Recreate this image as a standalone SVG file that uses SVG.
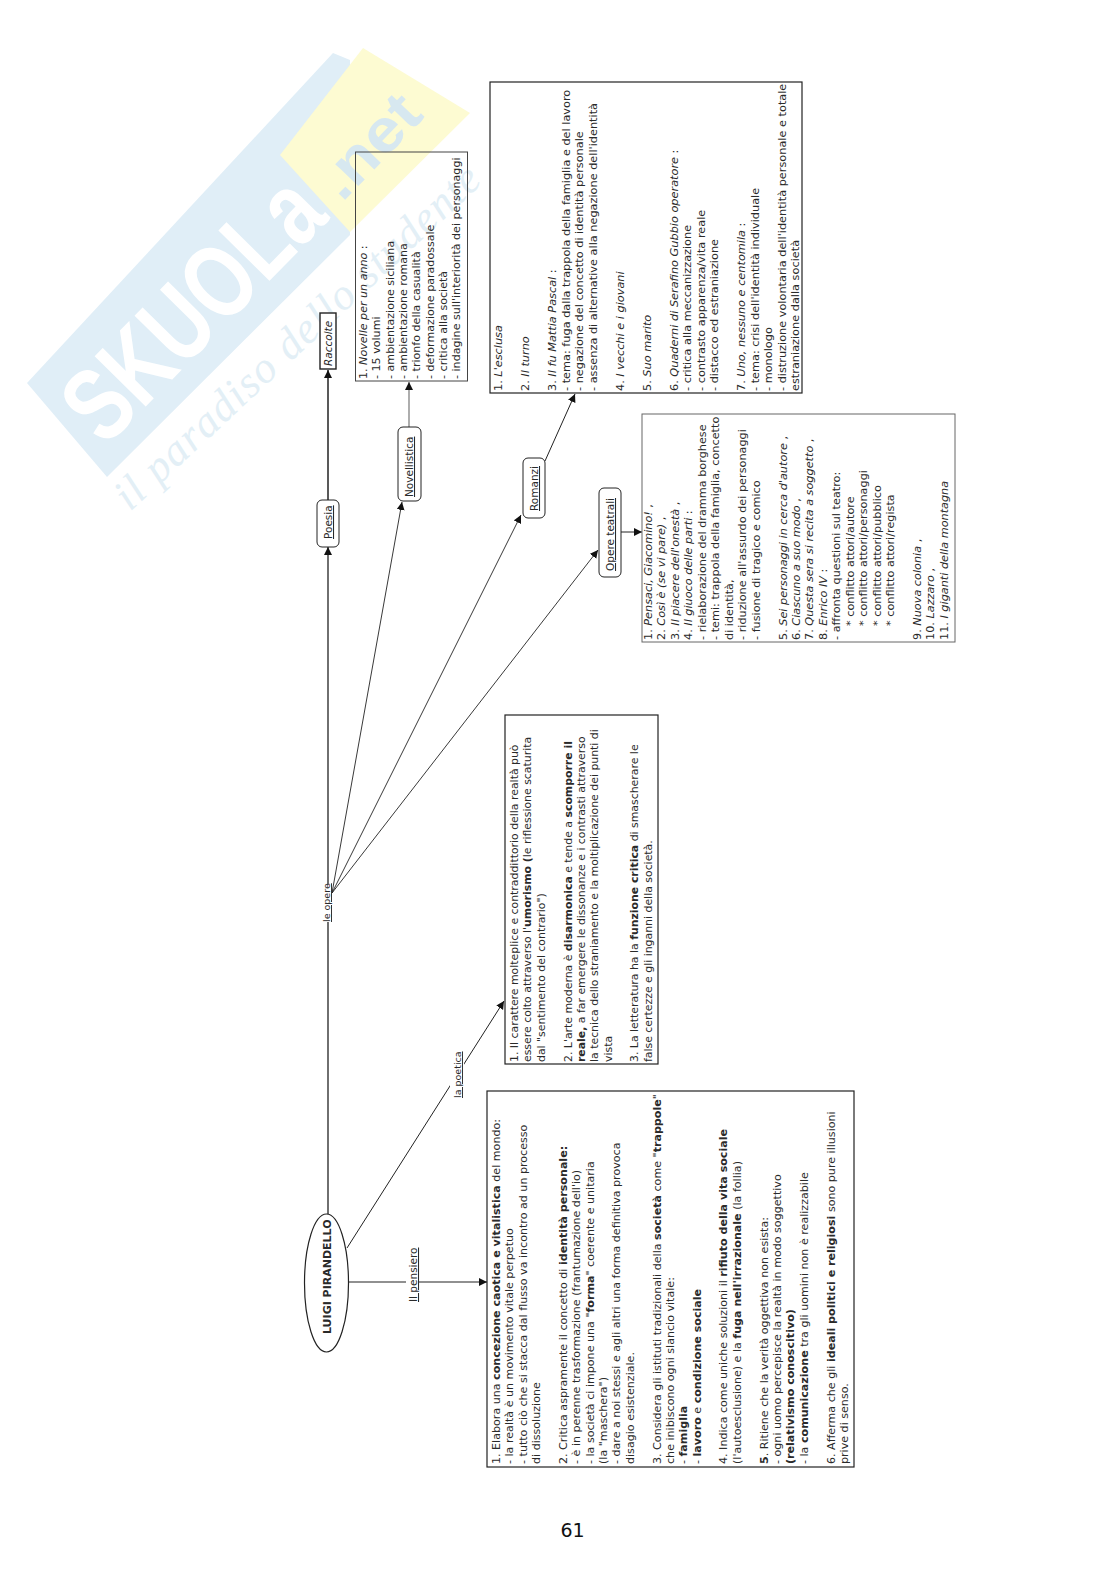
<svg xmlns="http://www.w3.org/2000/svg" width="1116" height="1579" viewBox="0 0 1116 1579">
<style>
text{font-family:"DejaVu Sans",Verdana,sans-serif;font-size:11.1px;fill:#2a2a2a}
.b{font-weight:bold}
.i{font-style:italic}
.box{fill:#fff;stroke:#222;stroke-width:1.2}
.nb{fill:#fff;stroke:#222;stroke-width:1}
.u{text-decoration:underline;font-size:10.5px}
.ln{fill:none;stroke:#222;stroke-width:1;marker-end:url(#a)}
.lab{fill:#fff;stroke:none}
.wm{font-family:"Liberation Sans",Arial,sans-serif;font-weight:bold}
.p text{font-size:10.9px}
.r text{font-size:11.3px}
.t text{font-size:11.25px}
</style>
<defs>
<marker id="a" markerUnits="userSpaceOnUse" markerWidth="9" markerHeight="9" refX="8" refY="4" orient="auto"><path d="M0 0L8 4L0 8Z" fill="#111"/></marker>
</defs>
<rect width="1116" height="1579" fill="#fff"/>
<g id="watermark">
<polygon points="27,383 333,53 350,60 350,235 107,477" fill="#e0eef7"/>
<polygon points="280,155 363,48 470,113 350,232" fill="#fdfbd2"/>
<text class="wm" transform="translate(105,448) rotate(-45.5)" style="fill:#fff;font-size:104px" textLength="322" lengthAdjust="spacingAndGlyphs">SKUOLa</text>
<text class="wm" transform="translate(342,203) rotate(-46)" style="fill:#d7e8f0;font-size:60px" textLength="120" lengthAdjust="spacingAndGlyphs">.net</text>
<text transform="translate(130,512) rotate(-43)" style="font-family:'Liberation Serif',serif;font-style:italic;font-size:44px;fill:#e3eff6" textLength="483">il paradiso dello studente</text>
</g>
<g id="connectors">
<path class="ln" style="stroke-width:1.3" d="M328 1215V547"/>
<path class="ln" style="stroke-width:1.5" d="M328 500V370"/>
<path class="ln" style="stroke-width:.9" d="M332 893L402 502"/>
<path class="ln" style="stroke-width:.9" d="M332 893L521 515"/>
<path class="ln" style="stroke-width:.9" d="M332 893L598 550"/>
<path class="ln" style="stroke:#777;stroke-width:1.2" d="M409 427V382"/>
<path class="ln" d="M545 461L575 394"/>
<path class="ln" d="M621 532H642"/>
<path class="ln" style="stroke-width:1.2" d="M348 1282H487"/>
<path class="ln" d="M347 1248L504 1001"/>
<rect class="lab" x="320" y="885" width="12" height="37"/>
<rect class="lab" x="450" y="1053" width="14" height="46"/>
<rect class="lab" x="406" y="1257" width="13" height="48"/>
<text class="u" style="font-size:9.5px" transform="translate(330,922) rotate(-90)">le opere</text>
<text class="u" style="font-size:9.5px" transform="translate(461,1098) rotate(-90)">la poetica</text>
<text class="u" transform="translate(417,1302) rotate(-90)">Il pensiero</text>
</g>
<g id="n-pirandello">
<ellipse cx="326.5" cy="1283" rx="22" ry="69" fill="#fff" stroke="#222" stroke-width="1.2"/>
<text class="b" style="font-size:11px" transform="translate(331,1334) rotate(-90)">LUIGI PIRANDELLO</text>
</g>
<g id="n-pensiero">
<rect class="box" x="487" y="1091" width="367" height="376"/>
<g transform="translate(500,1464) rotate(-90)">
<text y="0">1. Elabora una <tspan class="b">concezione caotica e vitalistica</tspan> del mondo:</text>
<text y="13.38">- la realtà è un movimento vitale perpetuo</text>
<text y="26.76">- tutto ciò che si stacca dal flusso va incontro ad un processo</text>
<text y="40.14">di dissoluzione</text>
<text y="66.9">2. Critica aspramente il concetto di <tspan class="b">identità personale:</tspan></text>
<text y="80.28">- è in perenne trasformazione (frantumazione dell'io)</text>
<text y="93.66">- la società ci impone una "<tspan class="b">forma</tspan>" coerente e unitaria</text>
<text y="107.04">(la "maschera")</text>
<text y="120.42">- dare a noi stessi e agli altri una forma definitiva provoca</text>
<text y="133.8">disagio esistenziale.</text>
<text y="160.56">3. Considera gli istituti tradizionali della <tspan class="b">società</tspan> come "<tspan class="b">trappole</tspan>"</text>
<text y="173.94">che inibiscono ogni slancio vitale:</text>
<text y="187.32">- <tspan class="b">famiglia</tspan></text>
<text y="200.7">- <tspan class="b">lavoro</tspan> e <tspan class="b">condizione sociale</tspan></text>
<text y="227.46">4. Indica come uniche soluzioni il <tspan class="b">rifiuto della vita sociale</tspan></text>
<text y="240.84">(l'autoesclusione) e la <tspan class="b">fuga nell'irrazionale</tspan> (la follia)</text>
<text y="267.6"><tspan class="b">5</tspan>. Ritiene che la verità oggettiva non esista:</text>
<text y="280.98">- ogni uomo percepisce la realtà in modo soggettivo</text>
<text y="294.36" class="b">(relativismo conoscitivo)</text>
<text y="307.74">- la <tspan class="b">comunicazione</tspan> tra gli uomini non è realizzabile</text>
<text y="334.5">6. Afferma che gli <tspan class="b">ideali politici e religiosi</tspan> sono pure illusioni</text>
<text y="347.88">prive di senso.</text>
</g>
</g>
<g id="n-poetica">
<rect class="box" x="505" y="715" width="153" height="349"/>
<g class="p" transform="translate(518,1062) rotate(-90)">
<text y="0">1. Il carattere molteplice e contraddittorio della realtà può</text>
<text y="13.38">essere colto attraverso l'<tspan class="b">umorismo (</tspan>le riflessione scaturita</text>
<text y="26.76">dal "sentimento del contrario")</text>
<text y="53.52">2. L'arte moderna è <tspan class="b">disarmonica</tspan> e tende a <tspan class="b">scomporre il</tspan></text>
<text y="66.9"><tspan class="b">reale,</tspan> a far emergere le dissonanze e i contrasti attraverso</text>
<text y="80.28">la tecnica dello straniamento e la moltiplicazione dei punti di</text>
<text y="93.66">vista</text>
<text y="120.42">3. La letteratura ha la <tspan class="b">funzione critica</tspan> di smascherare le</text>
<text y="133.8">false certezze e gli inganni della società.</text>
</g>
</g>
<g id="n-raccolte">
<rect x="320" y="313" width="16" height="56" fill="#fff" stroke="#222" stroke-width="1.4"/>
<text class="i" style="font-size:10.5px" transform="translate(332,366) rotate(-90)">Raccolte</text>
</g>
<g id="n-poesia">
<rect class="nb" x="317" y="500" width="22" height="47" rx="5"/>
<text class="u" transform="translate(332,539) rotate(-90)">Poesia</text>
</g>
<g id="n-novellistica">
<rect class="nb" x="398" y="427" width="23" height="74" rx="5"/>
<text class="u" transform="translate(413,497) rotate(-90)">Novellistica</text>
</g>
<g id="n-romanzi">
<rect class="nb" x="523" y="458" width="22" height="60" rx="5"/>
<text class="u" transform="translate(538,511) rotate(-90)">Romanzi</text>
</g>
<g id="n-teatrali">
<rect class="nb" x="599" y="488" width="22" height="89" rx="5"/>
<text class="u" transform="translate(614,571) rotate(-90)">Opere teatrali</text>
</g>
<g id="n-novelle">
<rect x="355.5" y="152" width="112" height="229" fill="#fff" fill-opacity="0" stroke="#444" stroke-width="1"/>
<g transform="translate(367,379) rotate(-90)">
<text y="0">1. <tspan class="i">Novelle per un anno</tspan> :</text>
<text y="13.3">- 15 volumi</text>
<text y="26.6">- ambientazione siciliana</text>
<text y="39.9">- ambientazione romana</text>
<text y="53.2">- trionfo della casualità</text>
<text y="66.5">- deformazione paradossale</text>
<text y="79.8">- critica alla società</text>
<text y="93.1">- indagine sull'interiorità dei personaggi</text>
</g>
</g>
<g id="n-romanzi-list">
<rect class="box" x="490" y="82" width="312" height="311"/>
<g class="r" transform="translate(502,391) rotate(-90)">
<text y="0">1. <tspan class="i">L'esclusa</tspan></text>
<text y="27">2. <tspan class="i">Il turno</tspan></text>
<text y="54">3. <tspan class="i">Il fu Mattia Pascal</tspan> :</text>
<text y="67.5">- tema: fuga dalla trappola della famiglia e del lavoro</text>
<text y="81">- negazione del concetto di identità personale</text>
<text y="94.5">- assenza di alternative alla negazione dell'identità</text>
<text y="121.5">4. <tspan class="i">I vecchi e i giovani</tspan></text>
<text y="148.5">5. <tspan class="i">Suo marito</tspan></text>
<text y="175.5">6. <tspan class="i">Quaderni di Serafino Gubbio operatore</tspan> :</text>
<text y="189">- critica alla meccanizzazione</text>
<text y="202.5">- contrasto apparenza/vita reale</text>
<text y="216">- distacco ed estraniazione</text>
<text y="243">7. <tspan class="i">Uno, nessuno e centomila</tspan> :</text>
<text y="256.5">- tema: crisi dell'identità individuale</text>
<text y="270">- monologo</text>
<text y="283.5">- distruzione volontaria dell'identità personale e totale</text>
<text y="297">estraniazione dalla società</text>
</g>
</g>
<g id="n-teatrali-list">
<rect x="642" y="414" width="313" height="228" fill="#fff" stroke="#666" stroke-width="1"/>
<g class="t" transform="translate(652,640) rotate(-90)">
<text y="0">1. <tspan class="i">Pensaci, Giacomino!</tspan> ,</text>
<text y="13.45">2. <tspan class="i">Così è (se vi pare)</tspan> ,</text>
<text y="26.9">3. <tspan class="i">Il piacere dell'onestà</tspan> ,</text>
<text y="40.35">4. <tspan class="i">Il giuoco delle parti</tspan> :</text>
<text y="53.8">- rielaborazione del dramma borghese</text>
<text y="67.25">- temi: trappola della famiglia, concetto</text>
<text y="80.7">di identità,</text>
<text y="94.15">- riduzione all'assurdo dei personaggi</text>
<text y="107.6">- fusione di tragico e comico</text>
<text y="134.5">5. <tspan class="i">Sei personaggi in cerca d'autore</tspan> ,</text>
<text y="147.95">6. <tspan class="i">Ciascuno a suo modo</tspan> ,</text>
<text y="161.4">7. <tspan class="i">Questa sera si recita a soggetto</tspan> ,</text>
<text y="174.85">8. <tspan class="i">Enrico IV</tspan> :</text>
<text y="188.3">- affronta questioni sul teatro:</text>
<text y="201.75" x="14">* conflitto attori/autore</text>
<text y="215.2" x="14">* conflitto attori/personaggi</text>
<text y="228.65" x="14">* conflitto attori/pubblico</text>
<text y="242.1" x="14">* conflitto attori/regista</text>
<text y="269">9. <tspan class="i">Nuova colonia</tspan> ,</text>
<text y="282.45">10. <tspan class="i">Lazzaro</tspan> ,</text>
<text y="295.9">11. <tspan class="i">I giganti della montagna</tspan></text>
</g>
</g>
<text id="page" x="572.5" y="1537" text-anchor="middle" style="font-size:19px;fill:#111">61</text>
</svg>
